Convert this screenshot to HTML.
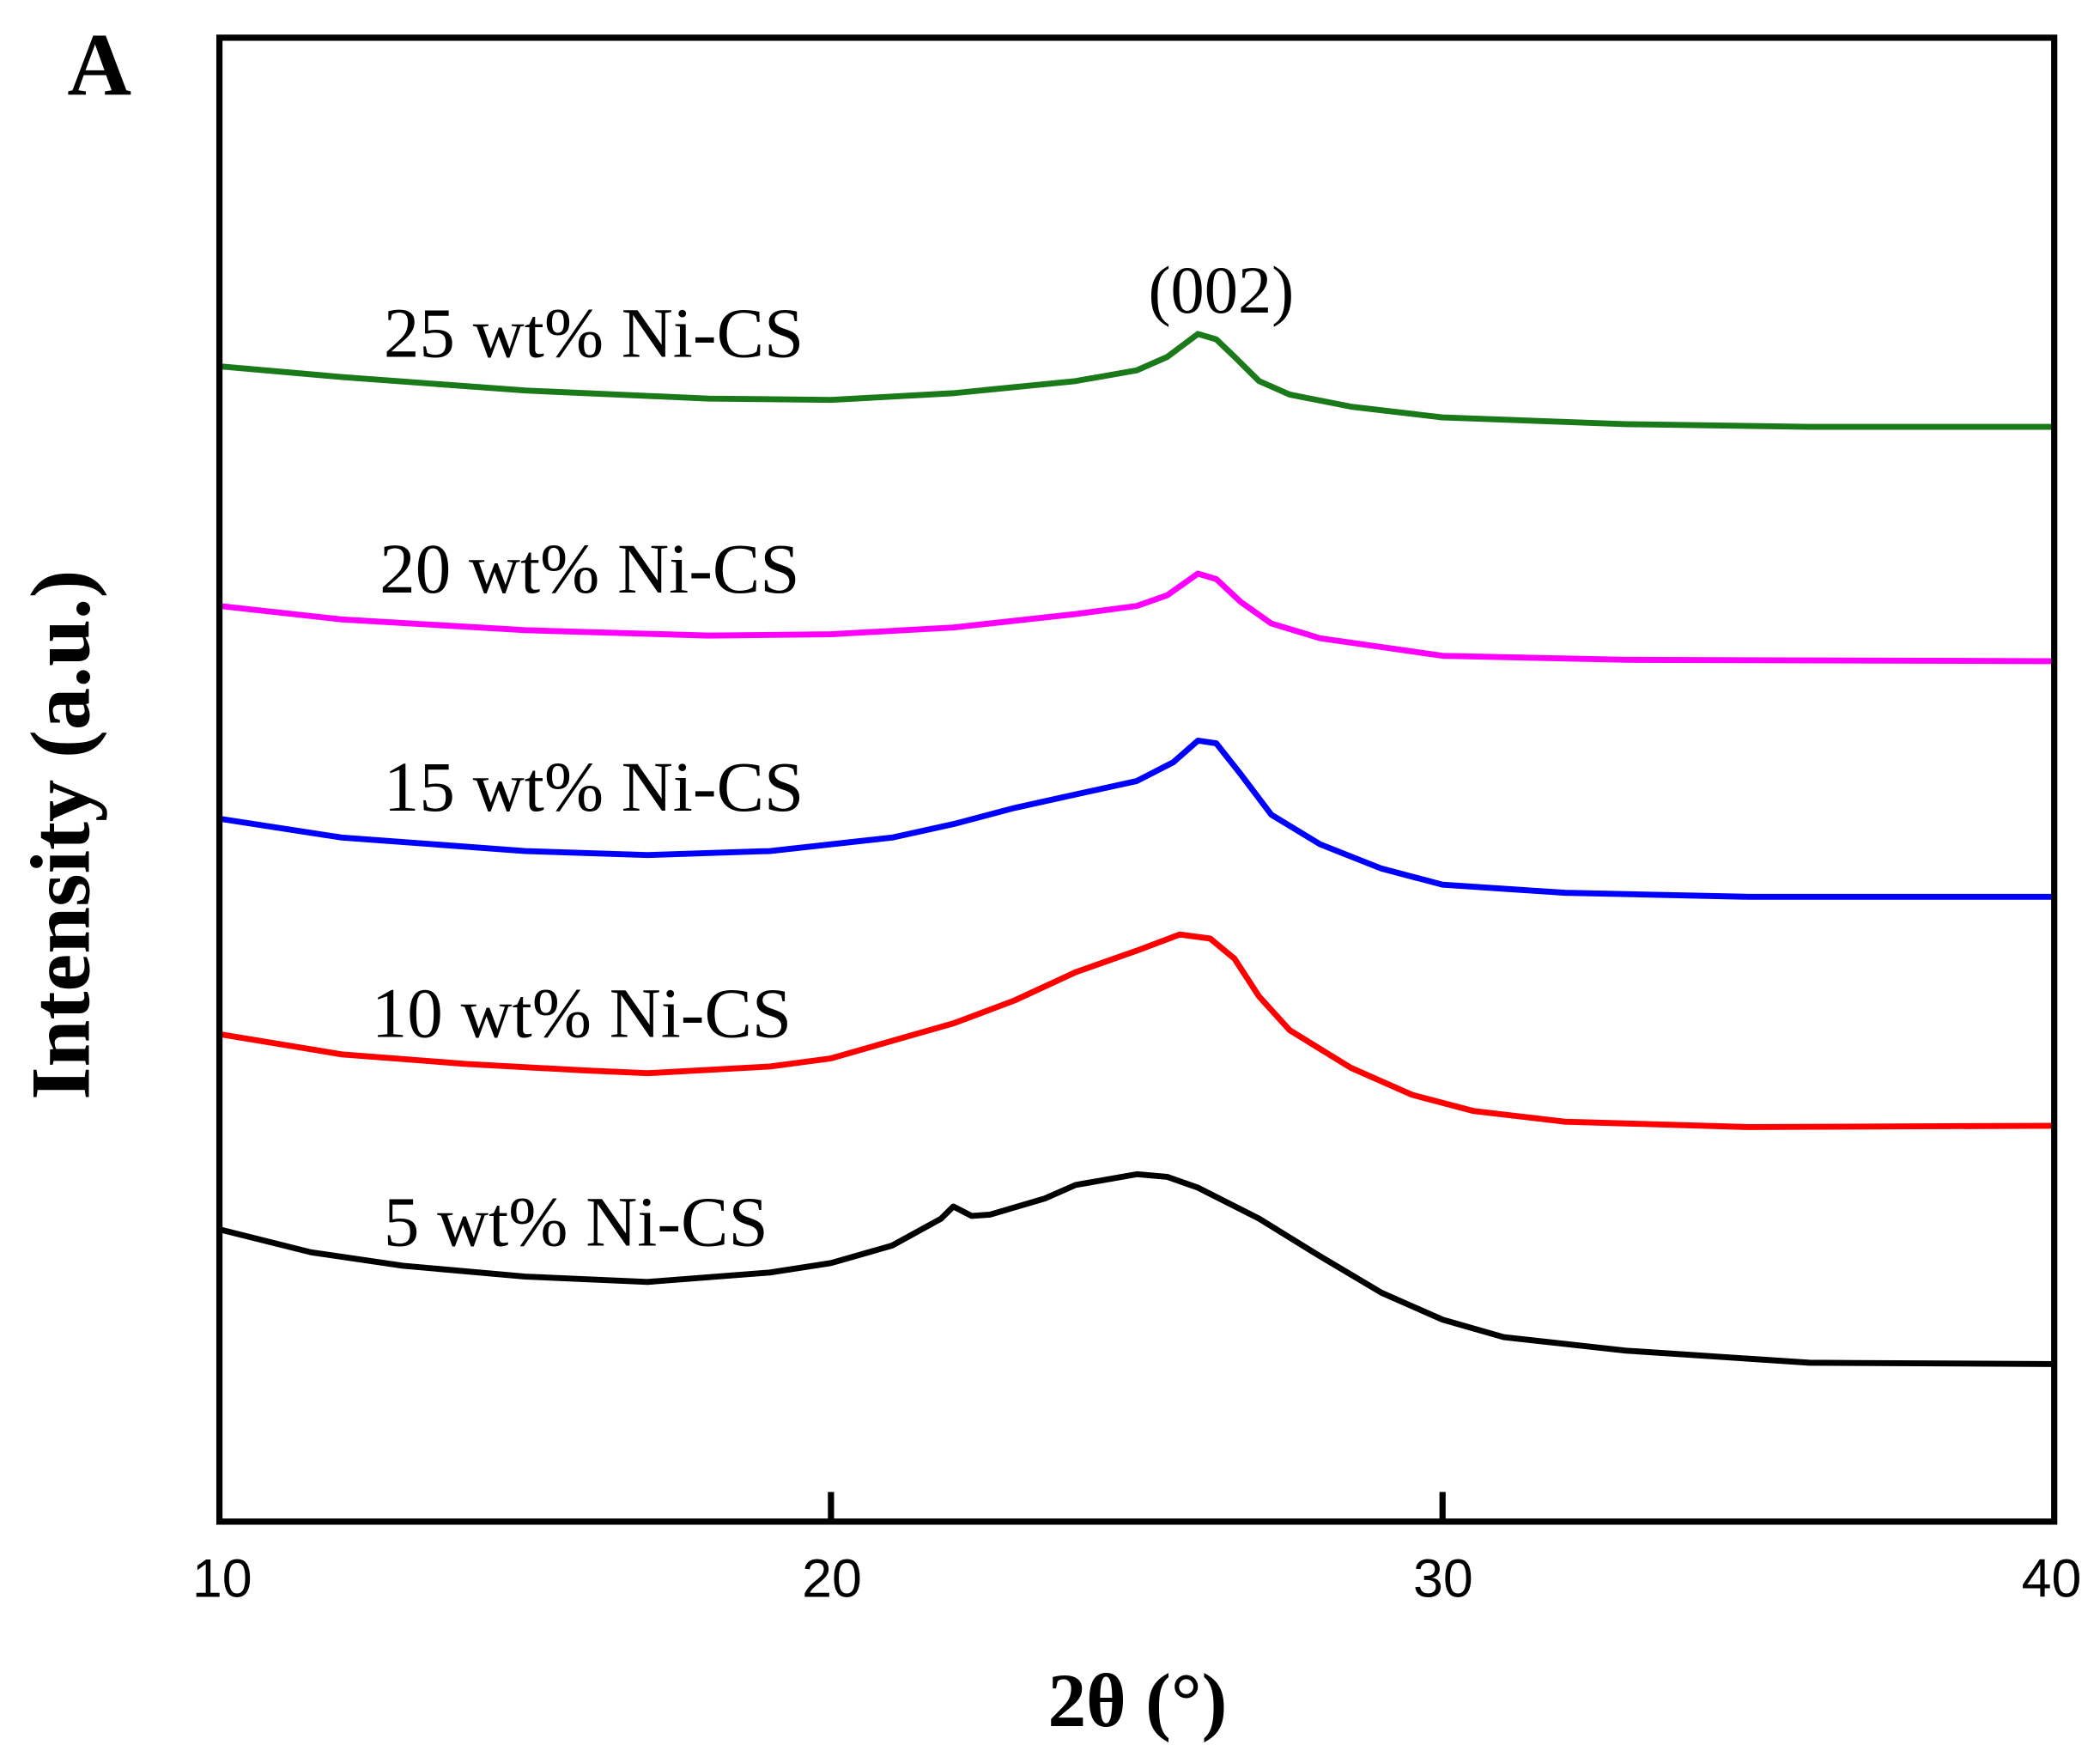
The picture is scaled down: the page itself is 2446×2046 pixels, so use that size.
<!DOCTYPE html>
<html><head><meta charset="utf-8"><style>html,body{margin:0;padding:0;background:#fff}svg{display:block}</style></head>
<body>
<svg xmlns="http://www.w3.org/2000/svg" width="2446" height="2046" viewBox="0 0 1560 1304.8" preserveAspectRatio="none">
<rect width="1560" height="1304.8" fill="#fff"/>
<g fill="none" stroke-width="4.4" stroke-linejoin="round" stroke-linecap="round">
<polyline stroke="#1a7a1a" points="163,272 253.9,280 390.2,290 526.4,296 617.3,297 708.2,292 799,283 844.5,275 867.2,265 889.9,248 903.5,252 917.1,265 935.3,283 958,293 1003.5,302 1071.6,310 1207.9,315 1344.2,317 1526,317"/>
<polyline stroke="#ff00ff" points="163,450 253.9,460 390.2,468 526.4,472 617.3,471 708.2,466 799,456 844.5,450 867.2,442 889.9,426 903.5,430 921.7,447 944.4,463 980.7,474 1071.6,487 1207.9,490 1526,491"/>
<polyline stroke="#0000ff" points="163,608 253.9,622 390.2,632 481,635 571.9,632 662.7,622 708.2,612 753.6,600 799,590 844.5,580 871.7,566 889.9,550 903.5,552 921.7,575 944.4,605 980.7,627 1026.2,645 1071.6,657 1162.5,663 1298.8,666 1526,666"/>
<polyline stroke="#ff0000" points="163,768 253.9,783 344.7,790 435.6,795 481,797 571.9,792 617.3,786 662.7,773 708.2,760 753.6,743 799,722 844.5,706 876.3,694 899,697 917.1,712 935.3,740 958,765 1003.5,793 1048.9,813 1094.3,825 1162.5,833 1298.8,837 1526,836"/>
<polyline stroke="#000" points="163,913 231.1,930 299.3,940 390.2,948 481,952 571.9,945 617.3,938 662.7,925 699.1,905 708.2,896 721.8,903 735.4,902 776.3,890 799,880 844.5,872 867.2,874 889.9,882 935.3,905 980.7,933 1026.2,960 1071.6,980 1117,993 1207.9,1003 1344.2,1012 1526,1013"/>
</g>
<g stroke="#000" stroke-width="4.6" fill="none">
<rect x="163" y="28" width="1363" height="1102"/>
<line x1="617.3" y1="1130" x2="617.3" y2="1108"/>
<line x1="1071.6" y1="1130" x2="1071.6" y2="1108"/>
</g>
<g font-family="Liberation Sans, Arial, sans-serif" font-size="40" text-anchor="middle" fill="#000">
<text x="165" y="1186">10</text>
<text x="618" y="1186">20</text>
<text x="1072" y="1186">30</text>
<text x="1524" y="1186">40</text>
</g>
<g font-family="Liberation Serif, 'Times New Roman', serif" font-size="53" fill="#000">
<text x="285" y="265">25 wt% Ni-CS</text>
<text x="282" y="440">20 wt% Ni-CS</text>
<text x="285" y="602">15 wt% Ni-CS</text>
<text x="276" y="770">10 wt% Ni-CS</text>
<text x="285" y="925">5 wt% Ni-CS</text>
<text x="853" y="232" font-size="50">(002)</text>
</g>
<g font-family="Liberation Serif, 'Times New Roman', serif" font-weight="bold" fill="#000">
<text x="50" y="70" font-size="66">A</text>
<text x="845" y="1282" font-size="57" text-anchor="middle">2θ (°)</text>
<text transform="translate(66,620) rotate(-90)" font-size="63" text-anchor="middle">Intensity (a.u.)</text>
</g>
</svg>
</body></html>
